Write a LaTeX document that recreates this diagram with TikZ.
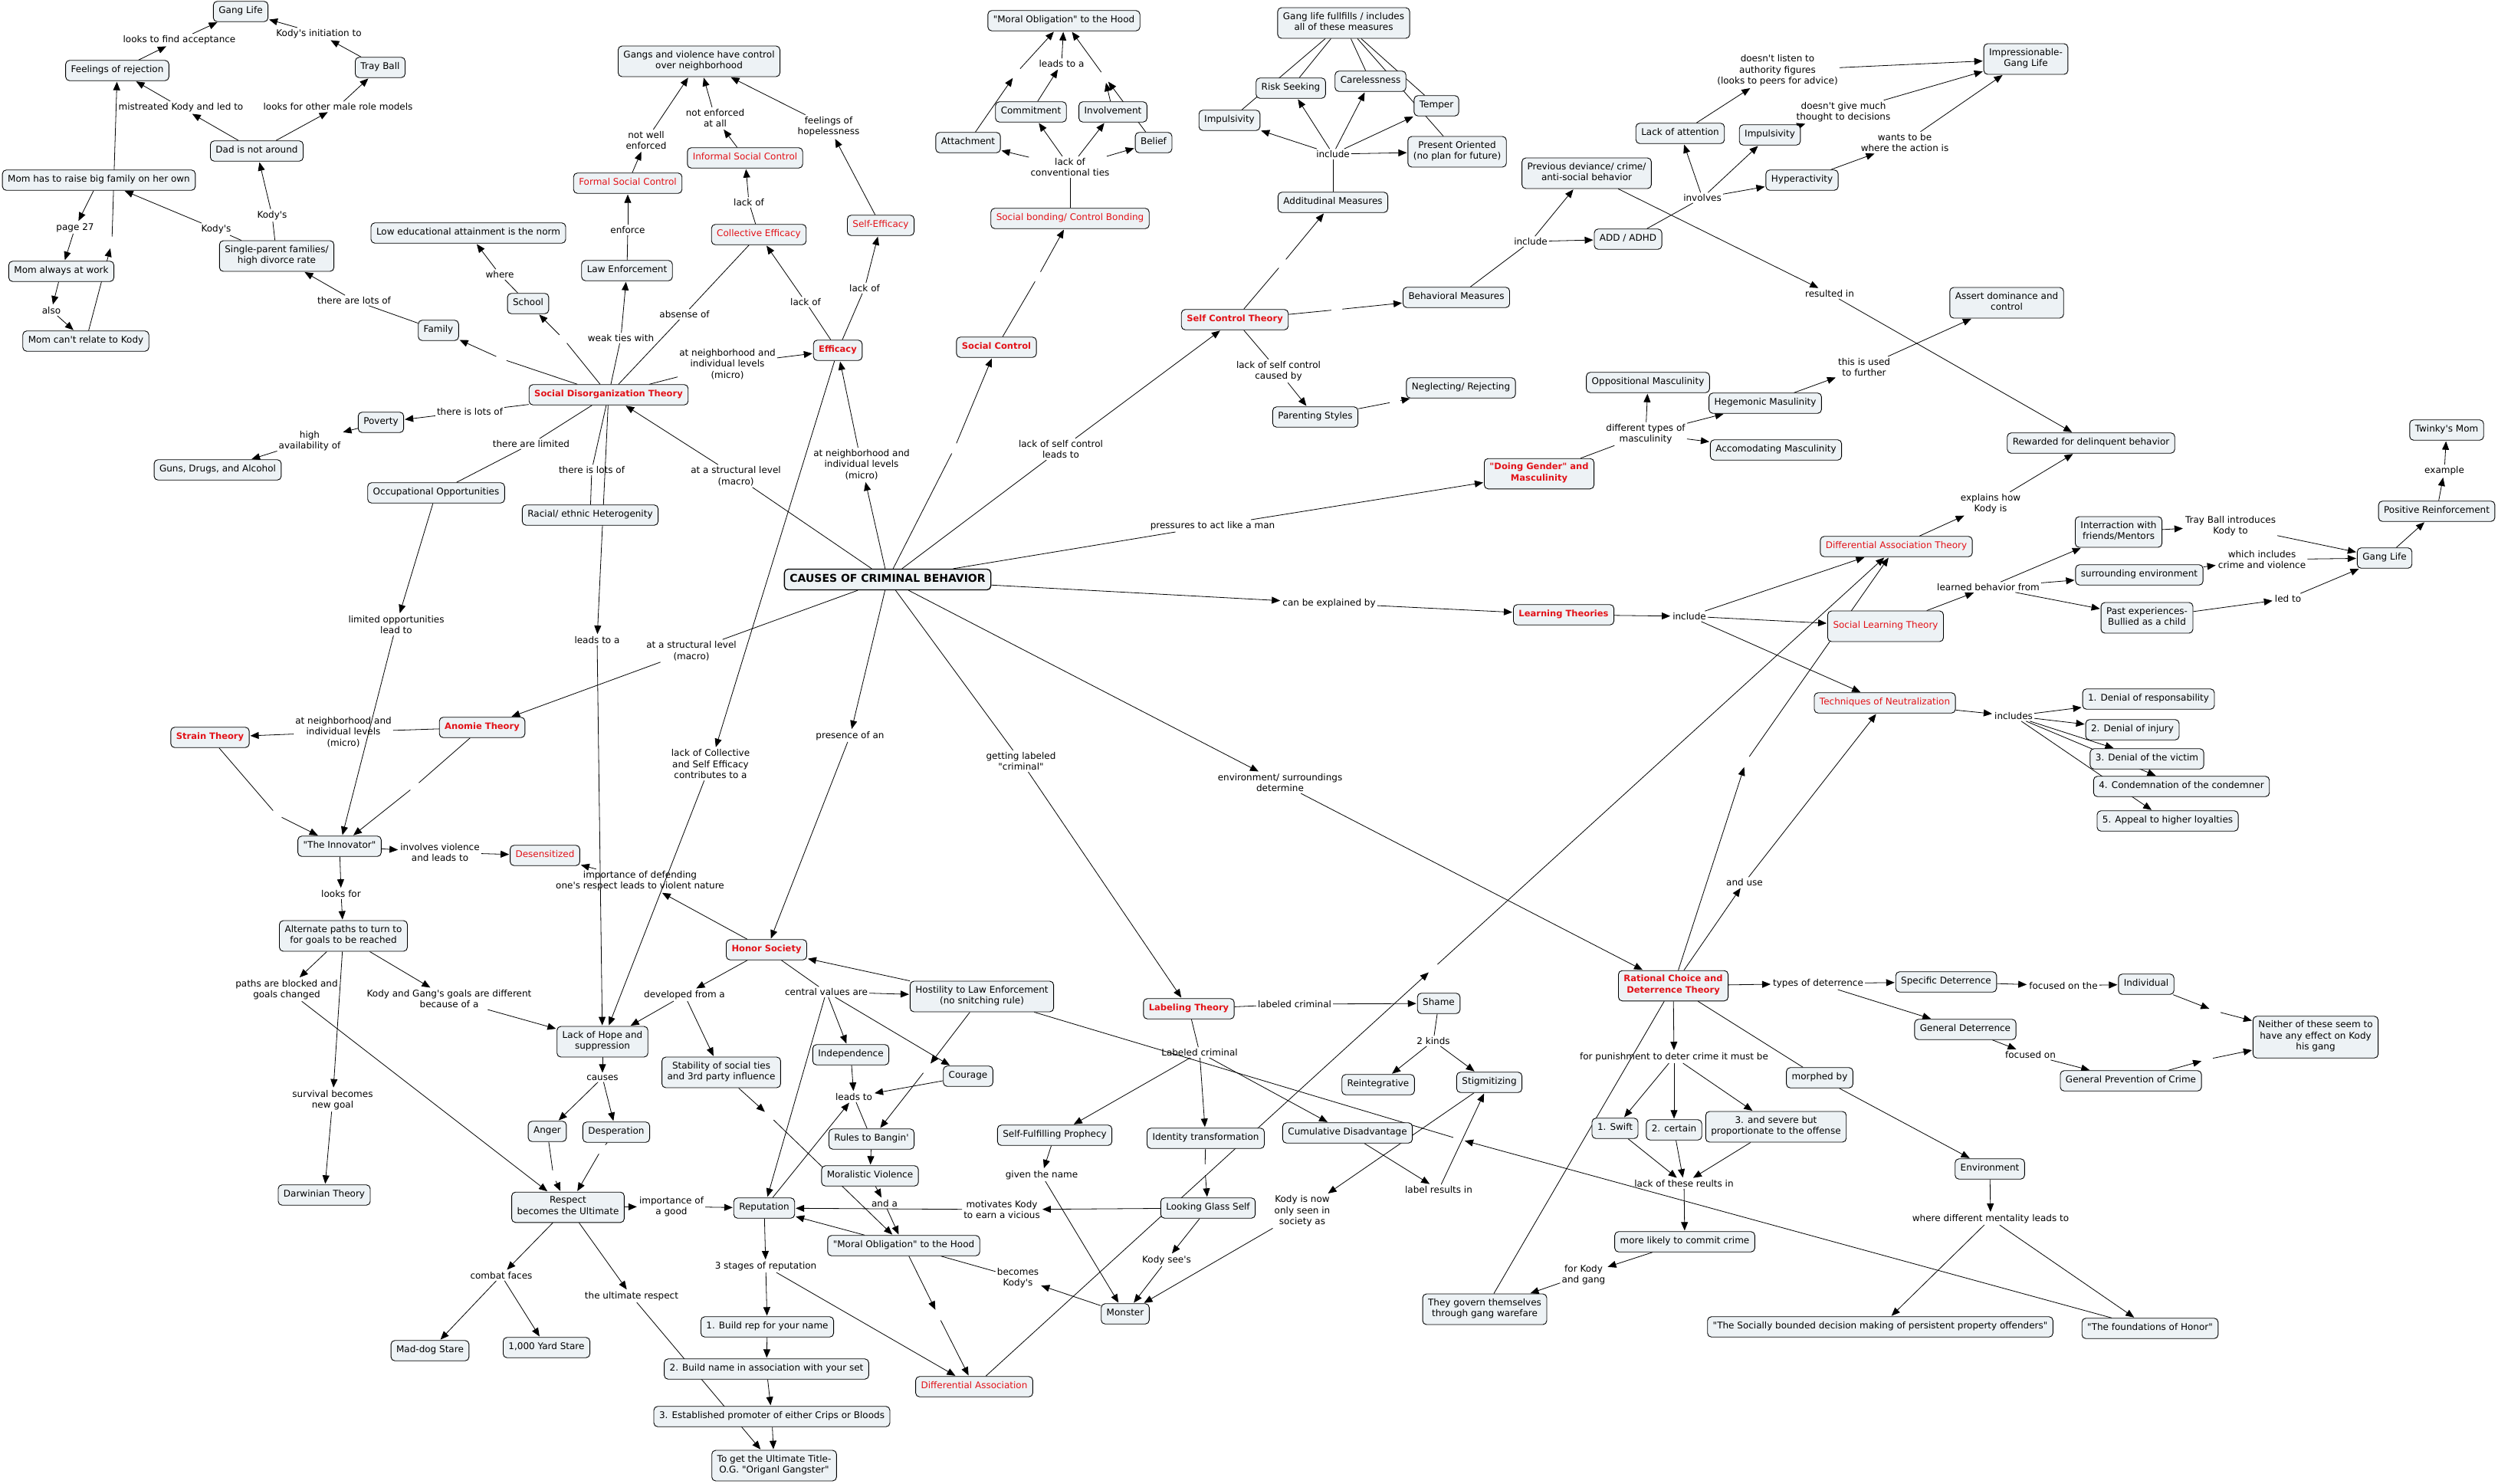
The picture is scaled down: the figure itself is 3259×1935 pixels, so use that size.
\documentclass[tikz,border=0pt]{standalone}
\usepackage{fontspec}
\setmainfont{DejaVu Sans}[Ligatures=TeXOff]
\usetikzlibrary{arrows.meta}
\pgfdeclarelayer{bg}
\pgfsetlayers{bg,main}
\definecolor{nodefill}{RGB}{237,242,245}
\definecolor{cmred}{RGB}{226,18,24}
\newcommand{\mylnk}[2]{\draw[ln] (#1) -- (#2);}
\newcommand{\myarw}[2]{\draw[ar] (#1) -- (#2);}
\tikzset{
  cpt/.style={draw=black, line width=0.9pt, fill=nodefill, rounded corners=5pt, inner xsep=7pt, inner ysep=6pt, align=center, font=\fontsize{12}{14.5}\selectfont, text=black, execute at begin node=\strut, execute at end node=\strut},
  rcpt/.style={cpt, text=cmred},
  bcpt/.style={cpt, text=cmred, font=\fontsize{11.5}{14.5}\selectfont\bfseries},
  lbl/.style={inner sep=2pt, align=center, font=\fontsize{12}{14.5}\selectfont},
  hid/.style={circle, inner sep=5pt, minimum size=0pt},
  ln/.style={draw=black, line width=0.8pt},
  ar/.style={ln, -{Triangle[length=11pt,width=9pt]}, shorten >=1pt},
}
\begin{document}
\begin{tikzpicture}[x=1pt,y=-1pt]
\path[use as bounding box] (0,0) rectangle (3259,1935);
% ---------------- concepts ----------------
\node[cpt] (gl1) at (314,15) {Gang Life};
\node[cpt] (tray) at (496,88) {Tray Ball};
\node[cpt] (feel) at (153,92) {Feelings of rejection};
\node[cpt] (dad) at (335,197) {Dad is not around};
\node[cpt] (momraise) at (129,235) {Mom has to raise big family on her own};
\node[cpt] (single) at (361,334) {Single-parent families/\\high divorce rate};
\node[cpt] (momwork) at (80,354) {Mom always at work};
\node[cpt] (momrel) at (112,445) {Mom can't relate to Kody};
\node[cpt] (lowedu) at (611,304) {Low educational attainment is the norm};
\node[cpt] (school) at (689,396) {School};
\node[cpt] (family) at (572,431) {Family};
\node[bcpt] (sdt) at (794,515) {Social Disorganization Theory};
\node[cpt] (poverty) at (497,551) {Poverty};
\node[cpt] (guns) at (284,613) {Guns, Drugs, and Alcohol};
\node[cpt] (occ) at (569,643) {Occupational Opportunities};
\node[cpt] (racial) at (770,672) {Racial/ ethnic Heterogenity};
\node[cpt] (lawenf) at (818,353) {Law Enforcement};
\node[rcpt] (formal) at (819,239) {Formal Social Control};
\node[cpt] (gangs) at (912,80) {Gangs and violence have control\\over neighborhood};
\node[rcpt] (informal) at (972,206) {Informal Social Control};
\node[rcpt] (colleff) at (990,306) {Collective Efficacy};
\node[rcpt] (selfeff) at (1149,294) {Self-Efficacy};
\node[bcpt] (efficacy) at (1093,457) {Efficacy};
\node[cpt] (moraltop) at (1388,27) {"Moral Obligation" to the Hood};
\node[cpt] (commit) at (1345,146) {Commitment};
\node[cpt] (involve) at (1452,146) {Involvement};
\node[cpt] (attach) at (1263,186) {Attachment};
\node[cpt] (belief) at (1505,186) {Belief};
\node[rcpt] (bonding) at (1396,285) {Social bonding/ Control Bonding};
\node[bcpt] (socctl) at (1300,453) {Social Control};
\node[bcpt] (sct) at (1611,417) {Self Control Theory};
\node[cpt] (impl) at (1604,157) {Impulsivity};
\node[cpt] (glf) at (1753,30) {Gang life fullfills / includes\\all of these measures};
\node[cpt] (risk) at (1684,115) {Risk Seeking};
\node[cpt] (careless) at (1788,106) {Carelessness};
\node[cpt] (temper) at (1874,138) {Temper};
\node[cpt] (present) at (1901,198) {Present Oriented\\(no plan for future)};
\node[cpt] (attit) at (1739,264) {Additudinal Measures};
\node[cpt] (behav) at (1900,388) {Behavioral Measures};
\node[cpt] (parent) at (1716,544) {Parenting Styles};
\node[cpt] (neglect) at (1906,506) {Neglecting/ Rejecting};
\node[cpt] (prevdev) at (2070,226) {Previous deviance/ crime/\\anti-social behavior};
\node[cpt] (adhd) at (2124,312) {ADD / ADHD};
\node[cpt] (lackatt) at (2192,174) {Lack of attention};
\node[cpt] (impr) at (2309,176) {Impulsivity};
\node[cpt] (hyper) at (2351,235) {Hyperactivity};
\node[cpt] (oppos) at (2150,499) {Oppositional Masculinity};
\node[cpt] (hegem) at (2303,526) {Hegemonic Masulinity};
\node[cpt] (accom) at (2317,587) {Accomodating Masculinity};
\node[bcpt] (gender) at (2008,618) {"Doing Gender" and\\Masculinity};
\node[cpt] (impress) at (2643,77) {Impressionable-\\Gang Life};
\node[cpt] (assert) at (2618,395) {Assert dominance and\\control};
\node[cpt] (reward) at (2728,578) {Rewarded for delinquent behavior};
\node[cpt] (twinky) at (3192,561) {Twinky's Mom};
\node[rcpt] (dat) at (2474,713) {Differential Association Theory};
\node[rcpt, minimum height=40pt] (slt) at (2460,817) {Social Learning Theory};
\node[rcpt] (techn) at (2459,917) {Techniques of Neutralization};
\node[cpt] (interr) at (2764,694) {Interraction with\\friends/Mentors};
\node[cpt] (surround) at (2791,750) {surrounding environment};
\node[cpt] (past) at (2801,806) {Past experiences-\\Bullied as a child};
\node[cpt] (gl2) at (3111,728) {Gang Life};
\node[cpt] (posrein) at (3179,667) {Positive Reinforcement};
\node[cpt] (d1) at (2803,912) {1. Denial of responsability};
\node[cpt] (d2) at (2782,952) {2. Denial of injury};
\node[cpt] (d3) at (2801,990) {3. Denial of the victim};
\node[cpt] (d4) at (2846,1026) {4. Condemnation of the condemner};
\node[cpt] (d5) at (2828,1071) {5. Appeal to higher loyalties};
\node[cpt] (spec) at (2539,1281) {Specific Deterrence};
\node[cpt] (indiv) at (2800,1284) {Individual};
\node[cpt] (gendet) at (2564,1343) {General Deterrence};
\node[cpt] (genprev) at (2780,1410) {General Prevention of Crime};
\node[cpt] (neither) at (3021,1353) {Neither of these seem to\\have any effect on Kody\\his gang};
\node[cpt] (env) at (2596,1525) {Environment};
\node[cpt] (honorf) at (2805,1733) {"The foundations of Honor"};
\node[cpt] (morphed) at (2374,1406) {morphed by};
\node[cpt] (socbound) at (2453,1731) {"The Socially bounded decision making of persistent property offenders"};
\node[bcpt] (rc) at (2183,1286) {Rational Choice and\\Deterrence Theory};
\node[cpt] (shame) at (1877,1309) {Shame};
\node[cpt] (reint) at (1798,1415) {Reintegrative};
\node[cpt] (stigma) at (1943,1412) {Stigmitizing};
\node[cpt] (cumul) at (1758,1478) {Cumulative Disadvantage};
\node[cpt] (swift) at (2107,1472) {1. Swift};
\node[cpt] (certain) at (2184,1474) {2. certain};
\node[cpt] (severe) at (2317,1470) {3. and severe but\\proportionate to the offense};
\node[cpt] (morelikely) at (2198,1620) {more likely to commit crime};
\node[cpt] (govern) at (1937,1708) {They govern themselves\\through gang warefare};
\node[cpt] (hostility) at (1281,1300) {Hostility to Law Enforcement\\(no snitching rule)};
\node[bcpt] (labeling) at (1551,1316) {Labeling Theory};
\node[cpt] (stability) at (941,1399) {Stability of social ties\\and 3rd party influence};
\node[cpt] (indep) at (1110,1376) {Independence};
\node[cpt] (courage) at (1263,1404) {Courage};
\node[cpt] (rules) at (1137,1486) {Rules to Bangin'};
\node[cpt] (moralv) at (1135,1534) {Moralistic Violence};
\node[cpt] (reput) at (997,1576) {Reputation};
\node[cpt] (moralbot) at (1179,1625) {"Moral Obligation" to the Hood};
\node[cpt] (b1) at (1001,1731) {1. Build rep for your name};
\node[cpt] (b2) at (1000,1786) {2. Build name in association with your set};
\node[cpt] (b3) at (1007,1848) {3. Established promoter of either Crips or Bloods};
\node[cpt] (og) at (1010,1912) {To get the Ultimate Title-\\O.G. "Origanl Gangster"};
\node[rcpt] (diffassoc) at (1271,1809) {Differential Association};
\node[cpt] (selffulf) at (1376,1481) {Self-Fulfilling Prophecy};
\node[cpt] (identity) at (1573,1485) {Identity transformation};
\node[cpt] (lgs) at (1576,1576) {Looking Glass Self};
\node[cpt] (monster) at (1468,1714) {Monster};
\node[cpt] (hope) at (786,1359) {Lack of Hope and\\suppression};
\node[cpt] (desper) at (804,1477) {Desperation};
\node[cpt] (anger) at (714,1476) {Anger};
\node[cpt] (darwin) at (423,1559) {Darwinian Theory};
\node[cpt] (respect) at (741,1575) {Respect\\becomes the Ultimate};
\node[cpt] (maddog) at (561,1762) {Mad-dog Stare};
\node[cpt] (yard) at (713,1758) {1,000 Yard Stare};
\node[bcpt] (anomie) at (629,949) {Anomie Theory};
\node[bcpt] (strain) at (274,962) {Strain Theory};
\node[cpt] (innov) at (443,1104) {"The Innovator"};
\node[rcpt] (desens) at (711,1116) {Desensitized};
\node[cpt] (altpath) at (448,1221) {Alternate paths to turn to\\for goals to be reached};
\node[cpt, line width=1.3pt, inner ysep=5pt, font=\fontsize{14}{17}\selectfont\bfseries] (causes) at (1158,756) {CAUSES OF CRIMINAL BEHAVIOR};
\node[bcpt] (honor) at (1000,1239) {Honor Society};
\node[bcpt] (learning) at (2040,802) {Learning Theories};
% ---------------- linking phrases ----------------
\node[lbl] (laccept) at (234,52) {looks to find acceptance};
\node[lbl] (linit) at (416,44) {Kody's initiation to};
\node[lbl] (lmistr) at (236,140) {mistreated Kody and led to};
\node[lbl] (lmale) at (441,139) {looks for other male role models};
\node[lbl] (lpage) at (98,297) {page 27};
\node[lbl] (lkodysa) at (282,299) {Kody's};
\node[lbl] (lkodysb) at (355,281) {Kody's};
\node[lbl] (lalso) at (67,405) {also};
\node[lbl] (lwhere) at (652,358) {where};
\node[lbl] (llotsa) at (462,392) {there are lots of};
\node[lbl] (llotsb) at (613,537) {there is lots of};
\node[lbl] (lavail) at (404,575) {high\\availability of};
\node[lbl] (llimited) at (693,579) {there are limited};
\node[lbl] (llotsc) at (772,613) {there is lots of};
\node[lbl] (lweak) at (810,441) {weak ties with};
\node[lbl] (lenforce) at (819,300) {enforce};
\node[lbl] (lnotwell) at (843,183) {not well\\enforced};
\node[lbl] (lnotenf) at (933,154) {not enforced\\at all};
\node[lbl] (lhopeless) at (1081,165) {feelings of\\hopelessness};
\node[lbl] (llacka) at (977,264) {lack of};
\node[lbl] (labsense) at (893,410) {absense of};
\node[lbl] (llackb) at (1051,394) {lack of};
\node[lbl] (llackc) at (1128,376) {lack of};
\node[lbl] (lmicroa) at (949,475) {at neighborhood and\\individual levels\\(micro)};
\node[lbl] (lmacroa) at (960,621) {at a structural level\\(macro)};
\node[lbl] (lmicrob) at (1124,606) {at neighborhood and\\individual levels\\(micro)};
\node[lbl] (lleadsa) at (1385,83) {leads to a};
\node[lbl] (lconv) at (1396,218) {lack of\\conventional ties};
\node[lbl] (lselfctl) at (1384,586) {lack of self control\\leads to};
\node[lbl] (lincludea) at (1739,201) {include};
\node[lbl] (lincludeb) at (1997,315) {include};
\node[lbl] (linvolves) at (2221,258) {involves};
\node[lbl] (llisten) at (2319,92) {doesn't listen to\\authority figures\\(looks to peers for advice)};
\node[lbl] (lthought) at (2405,146) {doesn't give much\\thought to decisions};
\node[lbl] (lresulted) at (2387,383) {resulted in};
\node[lbl] (lcaused) at (1668,484) {lack of self control\\caused by};
\node[lbl] (lmasc) at (2147,566) {different types of\\masculinity};
\node[lbl] (lfurther) at (2432,479) {this is used\\to further};
\node[lbl] (laction) at (2485,186) {wants to be\\where the action is};
\node[lbl] (lexplains) at (2597,657) {explains how\\Kody is};
\node[lbl] (lexample) at (3189,614) {example};
\node[lbl] (llimopp) at (517,815) {limited opportunities\\lead to};
\node[lbl] (lleadsb) at (779,835) {leads to a};
\node[lbl] (lmicroc) at (448,955) {at neighborhood and\\individual levels\\(micro)};
\node[lbl] (lviolence) at (574,1112) {involves violence\\and leads to};
\node[lbl] (llooksfor) at (445,1166) {looks for};
\node[lbl] (ldefend) at (835,1149) {importance of defending\\one's respect leads to violent nature};
\node[lbl] (lblocked) at (374,1291) {paths are blocked and\\goals changed};
\node[lbl] (lmacrob) at (902,849) {at a structural level\\(macro)};
\node[lbl] (lpresence) at (1109,960) {presence of an};
\node[lbl] (llackcoll) at (927,997) {lack of Collective\\and Self Efficacy\\contributes to a};
\node[lbl] (lgetting) at (1332,993) {getting labeled\\"criminal"};
\node[lbl] (lpressures) at (1582,686) {pressures to act like a man};
\node[lbl] (lenvdet) at (1670,1021) {environment/ surroundings\\determine};
\node[lbl] (lexplained) at (1734,787) {can be explained by};
\node[lbl] (lincludec) at (2204,804) {include};
\node[lbl] (landuse) at (2276,1151) {and use};
\node[lbl] (ltypes) at (2372,1283) {types of deterrence};
\node[lbl] (llearned) at (2594,766) {learned behavior from};
\node[lbl] (ltray) at (2910,686) {Tray Ball introduces\\Kody to};
\node[lbl] (lcrime) at (2951,730) {which includes\\crime and violence};
\node[lbl] (lledto) at (2985,781) {led to};
\node[lbl] (lincludes) at (2627,934) {includes};
\node[lbl] (lfocusthe) at (2692,1286) {focused on the};
\node[lbl] (lfocus) at (2649,1376) {focused on};
\node[lbl] (lmentality) at (2597,1590) {where different mentality leads to};
\node[lbl] (llabeleda) at (1689,1310) {labeled criminal};
\node[lbl] (ltwo) at (1870,1358) {2 kinds};
\node[lbl] (lseenas) at (1699,1580) {Kody is now\\only seen in\\society as};
\node[lbl] (lresults) at (1877,1552) {label results in};
\node[lbl] (lpunish) at (2184,1379) {for punishment to deter crime it must be};
\node[lbl] (llackthese) at (2197,1544) {lack of these reults in};
\node[lbl] (lforkody) at (2066,1663) {for Kody\\and gang};
\node[lbl] (ldeveloped) at (893,1298) {developed from a};
\node[lbl] (lcentral) at (1078,1294) {central values are};
\node[lbl] (lleadsto) at (1114,1431) {leads to};
\node[lbl] (landa) at (1154,1570) {and a};
\node[lbl] (lmotivates) at (1307,1578) {motivates Kody\\to earn a vicious};
\node[lbl] (lthree) at (999,1652) {3 stages of reputation};
\node[lbl] (lbecomes) at (1328,1667) {becomes\\Kody's};
\node[lbl] (llabeledb) at (1565,1373) {Labeled criminal};
\node[lbl] (lgiven) at (1359,1533) {given the name};
\node[lbl] (lsees) at (1522,1644) {Kody see's};
\node[lbl] (limportance) at (876,1574) {importance of\\a good};
\node[lbl] (lultimate) at (824,1691) {the ultimate respect};
\node[lbl] (lgoals) at (586,1303) {Kody and Gang's goals are different\\because of a};
\node[lbl] (lsurvival) at (434,1435) {survival becomes\\new goal};
\node[lbl] (lcauses) at (786,1406) {causes};
\node[lbl] (lcombat) at (654,1664) {combat faces};
% ---------------- empty linking points ----------------
\node[hid] (e1) at (146,316) {};
\node[hid] (efam) at (654,468) {};
\node[hid] (eschool) at (735,442) {};
\node[hid] (esoc) at (1245,585) {};
\node[hid] (ebond) at (1354,361) {};
\node[hid] (eatt) at (1326,95) {};
\node[hid] (einv) at (1441,100) {};
\node[hid] (eattit) at (1673,344) {};
\node[hid] (ebehav) at (1744,404) {};
\node[hid] (eneg) at (1820,524) {};
\node[hid] (eanom) at (541,1026) {};
\node[hid] (estr) at (361,1063) {};
\node[hid] (eang) at (722,1534) {};
\node[hid] (edes) at (785,1499) {};
\node[hid] (ehost) at (1209,1394) {};
\node[hid] (estab) at (1004,1456) {};
\node[hid] (emd) at (1224,1716) {};
\node[hid] (eid) at (1572,1526) {};
\node[hid] (edat) at (1870,1263) {};
\node[hid] (ercdat) at (2278,993) {};
\node[hid] (eind) at (2890,1319) {};
\node[hid] (egp) at (2880,1382) {};
\node[hid] (ehf) at (1903,1486) {};
% ---------------- connectors ----------------
\begin{pgfonlayer}{bg}
\fill[white] (0,0) rectangle (3259,1935);
\myarw{feel}{laccept} \myarw{laccept}{gl1}
\myarw{tray}{linit} \myarw{linit}{gl1}
\myarw{dad}{lmistr} \myarw{lmistr}{feel}
\myarw{dad}{lmale} \myarw{lmale}{tray}
\myarw{momrel}{e1} \myarw{e1}{feel}
\myarw{momraise}{lpage} \myarw{lpage}{momwork}
\myarw{momwork}{lalso} \myarw{lalso}{momrel}
\mylnk{single}{lkodysa} \myarw{lkodysa}{momraise}
\mylnk{single}{lkodysb} \myarw{lkodysb}{dad}
\mylnk{family}{llotsa} \myarw{llotsa}{single}
\mylnk{school}{lwhere} \myarw{lwhere}{lowedu}
\mylnk{sdt}{efam} \myarw{efam}{family}
\mylnk{sdt}{eschool} \myarw{eschool}{school}
\mylnk{sdt}{lweak} \myarw{lweak}{lawenf}
\mylnk{lawenf}{lenforce} \myarw{lenforce}{formal}
\mylnk{sdt}{llotsb} \myarw{llotsb}{poverty}
\myarw{poverty}{lavail} \myarw{lavail}{guns}
\mylnk{sdt}{llimited} \mylnk{llimited}{occ}
\mylnk{sdt}{llotsc} \mylnk{llotsc}{racial}
\myarw{sdt}{lleadsb} \myarw{lleadsb}{hope}
\mylnk{sdt}{labsense} \mylnk{labsense}{colleff}
\mylnk{sdt}{lmicroa} \myarw{lmicroa}{efficacy}
\mylnk{efficacy}{llackb} \myarw{llackb}{colleff}
\mylnk{efficacy}{llackc} \myarw{llackc}{selfeff}
\mylnk{colleff}{llacka} \myarw{llacka}{informal}
\myarw{informal}{lnotenf} \myarw{lnotenf}{gangs}
\myarw{formal}{lnotwell} \myarw{lnotwell}{gangs}
\myarw{selfeff}{lhopeless} \myarw{lhopeless}{gangs}
\mylnk{causes}{lmacroa} \myarw{lmacroa}{sdt}
\myarw{causes}{lmicrob} \myarw{lmicrob}{efficacy}
\mylnk{causes}{esoc} \myarw{esoc}{socctl}
\mylnk{causes}{lselfctl} \myarw{lselfctl}{sct}
\mylnk{socctl}{ebond} \myarw{ebond}{bonding}
\mylnk{bonding}{lconv} \myarw{lconv}{attach} \myarw{lconv}{commit} \myarw{lconv}{involve} \myarw{lconv}{belief}
\myarw{attach}{eatt} \myarw{eatt}{moraltop}
\myarw{commit}{lleadsa} \myarw{lleadsa}{moraltop}
\myarw{involve}{einv} \myarw{belief}{einv} \myarw{einv}{moraltop}
\mylnk{sct}{eattit} \myarw{eattit}{attit}
\mylnk{sct}{ebehav} \myarw{ebehav}{behav}
\mylnk{sct}{lcaused} \myarw{lcaused}{parent}
\mylnk{parent}{eneg} \myarw{eneg}{neglect}
\mylnk{attit}{lincludea} \myarw{lincludea}{impl} \myarw{lincludea}{risk} \myarw{lincludea}{careless} \myarw{lincludea}{temper} \myarw{lincludea}{present}
\mylnk{impl}{glf} \mylnk{risk}{glf} \mylnk{careless}{glf} \mylnk{temper}{glf} \mylnk{present}{glf}
\mylnk{behav}{lincludeb} \myarw{lincludeb}{prevdev} \myarw{lincludeb}{adhd}
\mylnk{adhd}{linvolves} \myarw{linvolves}{lackatt} \myarw{linvolves}{impr} \myarw{linvolves}{hyper}
\myarw{lackatt}{llisten} \myarw{llisten}{impress}
\myarw{impr}{lthought} \myarw{lthought}{impress}
\myarw{hyper}{laction} \myarw{laction}{impress}
\myarw{prevdev}{lresulted} \myarw{lresulted}{reward}
\mylnk{causes}{lpressures} \myarw{lpressures}{gender}
\mylnk{gender}{lmasc} \myarw{lmasc}{oppos} \myarw{lmasc}{hegem} \myarw{lmasc}{accom}
\myarw{hegem}{lfurther} \myarw{lfurther}{assert}
\myarw{causes}{lexplained} \myarw{lexplained}{learning}
\myarw{learning}{lincludec} \myarw{lincludec}{dat} \myarw{lincludec}{slt} \myarw{lincludec}{techn}
\myarw{dat}{lexplains} \myarw{lexplains}{reward}
\myarw{slt}{llearned} \myarw{llearned}{interr} \myarw{llearned}{surround} \myarw{llearned}{past}
\myarw{interr}{ltray} \myarw{ltray}{gl2}
\myarw{surround}{lcrime} \myarw{lcrime}{gl2}
\myarw{past}{lledto} \myarw{lledto}{gl2}
\myarw{gl2}{posrein}
\myarw{posrein}{lexample} \myarw{lexample}{twinky}
\myarw{techn}{lincludes} \myarw{lincludes}{d1} \myarw{lincludes}{d2} \myarw{lincludes}{d3} \myarw{lincludes}{d4} \myarw{lincludes}{d5}
\myarw{causes}{lenvdet} \myarw{lenvdet}{rc}
\myarw{rc}{ercdat} \myarw{ercdat}{dat}
\myarw{rc}{landuse} \myarw{landuse}{techn}
\myarw{rc}{ltypes} \myarw{ltypes}{spec} \myarw{ltypes}{gendet}
\myarw{spec}{lfocusthe} \myarw{lfocusthe}{indiv}
\myarw{gendet}{lfocus} \myarw{lfocus}{genprev}
\myarw{indiv}{eind} \myarw{eind}{neither}
\myarw{genprev}{egp} \myarw{egp}{neither}
\myarw{rc}{lpunish} \myarw{lpunish}{swift} \myarw{lpunish}{certain} \myarw{lpunish}{severe}
\myarw{swift}{llackthese} \myarw{certain}{llackthese} \myarw{severe}{llackthese} \myarw{llackthese}{morelikely}
\myarw{morelikely}{lforkody} \myarw{lforkody}{govern}
\mylnk{govern}{rc}
\mylnk{rc}{morphed} \myarw{morphed}{env}
\myarw{env}{lmentality} \myarw{lmentality}{socbound} \myarw{lmentality}{honorf}
\myarw{honorf}{ehf} \mylnk{ehf}{hostility}
\myarw{causes}{lpresence} \myarw{lpresence}{honor}
\myarw{honor}{ldefend} \myarw{ldefend}{desens}
\myarw{hostility}{honor}
\myarw{honor}{ldeveloped} \myarw{ldeveloped}{hope} \myarw{ldeveloped}{stability}
\mylnk{honor}{lcentral} \myarw{lcentral}{hostility} \myarw{lcentral}{reput} \myarw{lcentral}{indep} \myarw{lcentral}{courage}
\myarw{hostility}{ehost} \myarw{ehost}{rules}
\myarw{indep}{lleadsto} \myarw{courage}{lleadsto} \myarw{reput}{lleadsto} \mylnk{lleadsto}{rules}
\myarw{rules}{moralv}
\myarw{moralv}{landa} \myarw{landa}{moralbot}
\myarw{stability}{estab} \myarw{estab}{moralbot}
\myarw{moralbot}{reput}
\myarw{lgs}{lmotivates} \myarw{lmotivates}{reput}
\myarw{reput}{lthree} \myarw{lthree}{b1} \myarw{lthree}{diffassoc}
\myarw{b1}{b2} \myarw{b2}{b3} \myarw{b3}{og}
\myarw{respect}{lultimate} \myarw{lultimate}{og}
\myarw{moralbot}{emd} \myarw{emd}{diffassoc}
\mylnk{moralbot}{lbecomes} \myarw{monster}{lbecomes}
\myarw{diffassoc}{edat} \myarw{edat}{dat}
\mylnk{causes}{lgetting} \myarw{lgetting}{labeling}
\mylnk{labeling}{llabeleda} \myarw{llabeleda}{shame}
\mylnk{labeling}{llabeledb} \myarw{llabeledb}{selffulf} \myarw{llabeledb}{identity} \myarw{llabeledb}{cumul}
\mylnk{shame}{ltwo} \myarw{ltwo}{reint} \myarw{ltwo}{stigma}
\myarw{cumul}{lresults} \myarw{lresults}{stigma}
\myarw{stigma}{lseenas} \myarw{lseenas}{monster}
\myarw{selffulf}{lgiven} \myarw{lgiven}{monster}
\myarw{lgs}{lsees} \myarw{lsees}{monster}
\mylnk{identity}{eid} \myarw{eid}{lgs}
\myarw{occ}{llimopp} \myarw{llimopp}{innov}
\mylnk{anomie}{lmicroc} \myarw{lmicroc}{strain}
\mylnk{anomie}{eanom} \myarw{eanom}{innov}
\mylnk{strain}{estr} \myarw{estr}{innov}
\mylnk{causes}{lmacrob} \myarw{lmacrob}{anomie}
\myarw{innov}{lviolence} \myarw{lviolence}{desens}
\myarw{innov}{llooksfor} \myarw{llooksfor}{altpath}
\myarw{altpath}{lblocked} \myarw{lblocked}{respect}
\myarw{altpath}{lsurvival} \myarw{lsurvival}{darwin}
\myarw{altpath}{lgoals} \myarw{lgoals}{hope}
\myarw{hope}{lcauses} \myarw{lcauses}{anger} \myarw{lcauses}{desper}
\mylnk{anger}{eang} \myarw{eang}{respect}
\mylnk{desper}{edes} \myarw{edes}{respect}
\myarw{respect}{limportance} \myarw{limportance}{reput}
\myarw{respect}{lcombat} \myarw{lcombat}{maddog} \myarw{lcombat}{yard}
\myarw{efficacy}{llackcoll} \myarw{llackcoll}{hope}
\end{pgfonlayer}
\end{tikzpicture}
\end{document}
